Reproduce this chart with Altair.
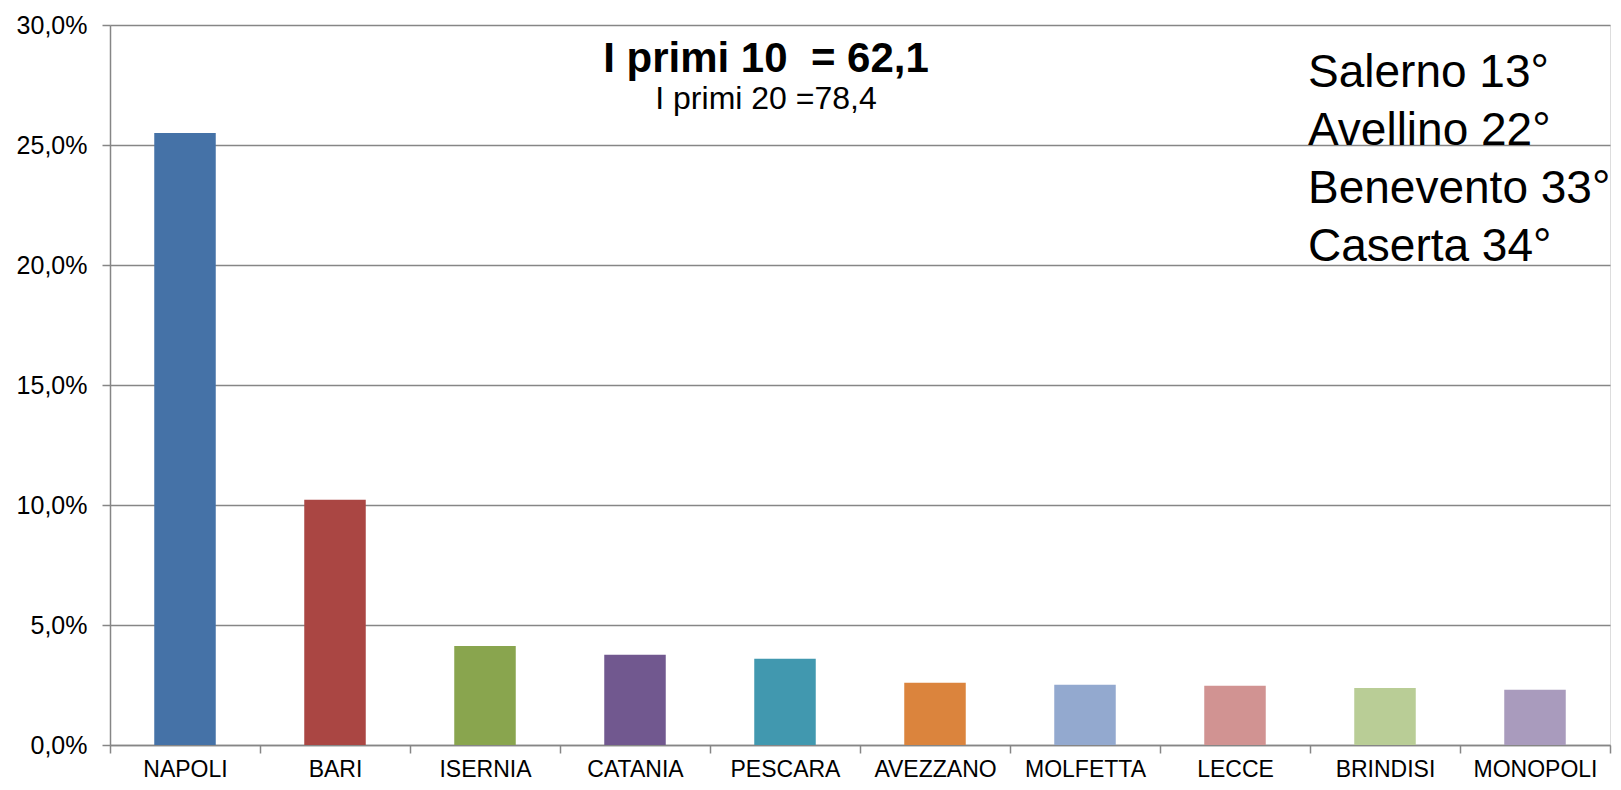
import altair as alt
import pandas as pd

cities = ["NAPOLI", "BARI", "ISERNIA", "CATANIA", "PESCARA", "AVEZZANO",
          "MOLFETTA", "LECCE", "BRINDISI", "MONOPOLI"]
shares = [0.2550, 0.1022, 0.0413, 0.0376, 0.0359, 0.0259, 0.0251, 0.0247, 0.0238, 0.0230]
colors = ["#4572A7", "#AA4643", "#89A54E", "#71588F", "#4198AF",
          "#DB843D", "#93A9CF", "#D19392", "#B9CD96", "#A99BBD"]
y_ticks = [0.0, 0.05, 0.10, 0.15, 0.20, 0.25, 0.30]
title_main = "I primi 10 \u00a0= 62,1"
title_sub = "I primi 20 =78,4"
side_notes = ["Salerno 13°", "Avellino 22°", "Benevento 33°", "Caserta 34°"]

df = pd.DataFrame({"city": cities, "share": shares})

FONT = "Liberation Sans"
GRID = "#868686"
W, H = 1500, 720

bars = alt.Chart(df).mark_bar(width={"band": 0.41}).encode(
    x=alt.X("city:N", sort=cities, title=None,
            scale=alt.Scale(paddingInner=0, paddingOuter=0),
            axis=alt.Axis(labelAngle=0, labelFont=FONT, labelFontSize=23,
                          labelColor="black", labelPadding=5, labelBaseline="top",
                          tickBand="extent",
                          tickColor=GRID, tickSize=8, tickWidth=1.5,
                          domainColor=GRID, domainWidth=1.5, grid=False)),
    y=alt.Y("share:Q", title=None,
            scale=alt.Scale(domain=[0, 0.3], nice=False),
            axis=alt.Axis(values=y_ticks,
                          labelExpr="replace(format(datum.value, '.1%'), '.', ',')",
                          labelFont=FONT, labelFontSize=25, labelColor="black",
                          labelPadding=15, tickColor=GRID, tickSize=8, tickWidth=1.5,
                          domainColor=GRID, domainWidth=1.5,
                          gridColor=GRID, gridWidth=1.5)),
    color=alt.Color("city:N", sort=cities,
                    scale=alt.Scale(domain=cities, range=colors), legend=None),
)

t_main = alt.Chart(pd.DataFrame({"t": [title_main]})).mark_text(
    font=FONT, fontSize=42, fontWeight="bold", align="center", baseline="alphabetic",
    color="black").encode(text="t:N", x=alt.value(656), y=alt.value(47))

t_sub = alt.Chart(pd.DataFrame({"t": [title_sub]})).mark_text(
    font=FONT, fontSize=32, align="center", baseline="alphabetic",
    color="black").encode(text="t:N", x=alt.value(656), y=alt.value(84))

notes_df = pd.DataFrame({"t": side_notes, "i": list(range(len(side_notes)))})
notes = alt.Chart(notes_df).mark_text(
    font=FONT, fontSize=46, align="left", baseline="alphabetic",
    color="black").encode(
    text="t:N",
    x=alt.value(1198),
    y=alt.Y("i:O", axis=None, scale=alt.Scale(range=[62, 236], padding=0, paddingOuter=0)),
)

chart = alt.layer(bars, t_main, t_sub, notes).resolve_scale(y="independent").properties(
    width=W, height=H,
    padding={"left": 102, "top": 17, "right": 3, "bottom": 37},
    autosize=alt.AutoSizeParams(type="none"),
).configure_view(stroke=None).configure(background="white")

chart.save("out.html", embed_options={"renderer": "svg", "actions": False})
